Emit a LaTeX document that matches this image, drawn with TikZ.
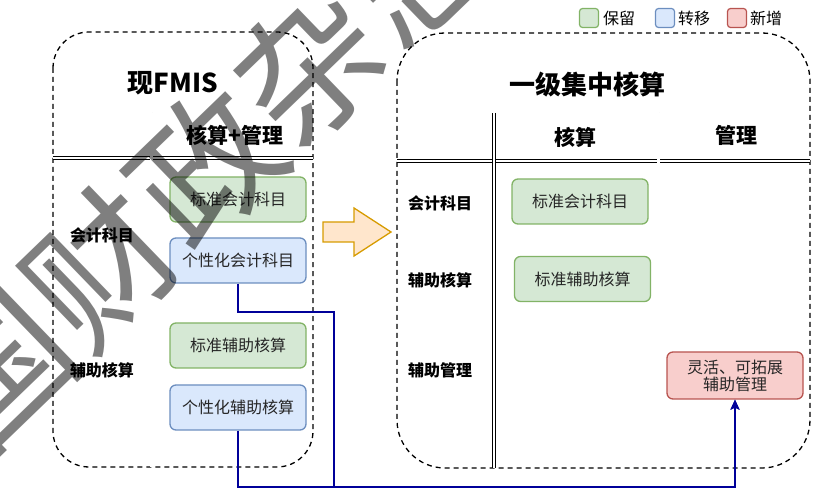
\documentclass[tikz,border=0pt]{standalone}
\usepackage{fontspec}
\setmainfont{Noto Sans CJK SC}
\usetikzlibrary{arrows.meta}
\definecolor{gfill}{HTML}{D5E8D4}\definecolor{gline}{HTML}{82B366}
\definecolor{bfill}{HTML}{DAE8FC}\definecolor{bline}{HTML}{6C8EBF}
\definecolor{rfill}{HTML}{F8CECC}\definecolor{rline}{HTML}{B85450}
\definecolor{ofill}{HTML}{FFE6CC}\definecolor{oline}{HTML}{D79B00}
\definecolor{navy}{HTML}{000099}
\newcommand\fsz[1]{\fontsize{#1}{#1}\selectfont}
\begin{document}
\begin{tikzpicture}[x=1pt,y=-1pt,
  container/.style={draw, dashed, dash pattern=on 5pt off 4pt, line width=1.3pt},
  dbl/.style={draw, double, double distance=2.4pt, line width=0.6pt},
  anybox/.style={draw, rounded corners=6pt, minimum width=136pt, minimum height=45pt, line width=1.3pt, inner sep=0pt, font=\fsz{16}, text=black!85},
  greenbox/.style={anybox, fill=gfill, draw=gline},
  bluebox/.style={anybox, fill=bfill, draw=bline},
  redbox/.style={anybox, fill=rfill, draw=rline, minimum height=47pt, align=center, font=\fontsize{16}{17}\selectfont},
  legsq/.style={draw, rounded corners=3pt, minimum width=19pt, minimum height=19pt, line width=1.2pt, inner sep=0pt},
  legtxt/.style={anchor=west, font=\fsz{16}, inner sep=0pt},
  lbl/.style={font=\bfseries\fsz{16}, inner sep=0pt},
  hdr/.style={font=\bfseries\fsz{21}, inner sep=0pt},
  ttl/.style={font=\bfseries\fsz{26}, inner sep=0pt},
  conn/.style={draw=navy, line width=1.5pt},
]
\path[use as bounding box] (0,0) rectangle (815,489);
\clip (0,0) rectangle (815,489);

% legend
\node[legsq, fill=gfill, draw=gline] (lg) at (589,18) {};
\node[legtxt] (lgt) at (603,18) {保留};
\node[legsq, fill=bfill, draw=bline] (lb) at (665,18) {};
\node[legtxt] (lbt) at (678,18) {转移};
\node[legsq, fill=rfill, draw=rline] (lr) at (737,18) {};
\node[legtxt] (lrt) at (750,18) {新增};

% containers
\draw[container, rounded corners=36pt] (53,32) rectangle (313,467);
\draw[container, rounded corners=48pt] (397,33) rectangle (810,468);

% table lines left
\draw[dbl] (53,158) -- (313,158);
\draw[dbl] (151.5,113) -- (151.5,467);
% table lines right
\draw[dbl] (397,161) -- (810,161);
\draw[dbl] (494,113) -- (494,468);
\draw[dbl] (658.5,113) -- (658.5,468);

% titles and labels
\node[ttl] (t1) at (173,83) {现FMIS};
\node[hdr] (h1) at (235,135) {核算+管理};
\node[lbl] (l1) at (102,235) {会计科目};
\node[lbl] (l2) at (102,370) {辅助核算};

\node[ttl] (t2) at (587,85) {一级集中核算};
\node[hdr] (h2) at (575,137) {核算};
\node[hdr] (h3) at (736,135) {管理};
\node[lbl] (r1) at (440,203) {会计科目};
\node[lbl] (r2) at (440,280) {辅助核算};
\node[lbl] (r3) at (440,370) {辅助管理};

% boxes left
\node[greenbox] (sa) at (238,199.5) {标准会计科目};
\node[bluebox]  (pa) at (238,260.5) {个性化会计科目};
\node[greenbox] (sb) at (238,345.5) {标准辅助核算};
\node[bluebox]  (pb) at (238,407.5) {个性化辅助核算};

% boxes right
\node[greenbox] (ra) at (580,201.5) {标准会计科目};
\node[greenbox] (rb) at (582.5,279) {标准辅助核算};
\node[redbox]   (rc) at (735,375.5) {灵活、可拓展\\辅助管理};

% big arrow
\draw[fill=ofill, draw=oline, line width=1.3pt]
  (323,222) -- (354,222) -- (354,208) -- (391,232) -- (354,256) -- (354,242) -- (323,242) -- cycle;

% connectors
\coordinate (j1) at (334,312);
\coordinate (bot) at (334,487);
\draw[conn, -{Stealth[length=10pt,width=9pt,inset=2pt]}] (pa.south) |- (j1) -- (bot) -| (rc.south);
\draw[conn, -{Stealth[length=10pt,width=9pt,inset=2pt]}] (pb.south) -- (pb.south |- bot) -| (rc.south);

% watermark
\node[rotate=44, font=\fsz{145}, text=black, text opacity=0.5, inner sep=0pt] (wm) at (205,167) {国财政杂志};
\end{tikzpicture}
\end{document}
